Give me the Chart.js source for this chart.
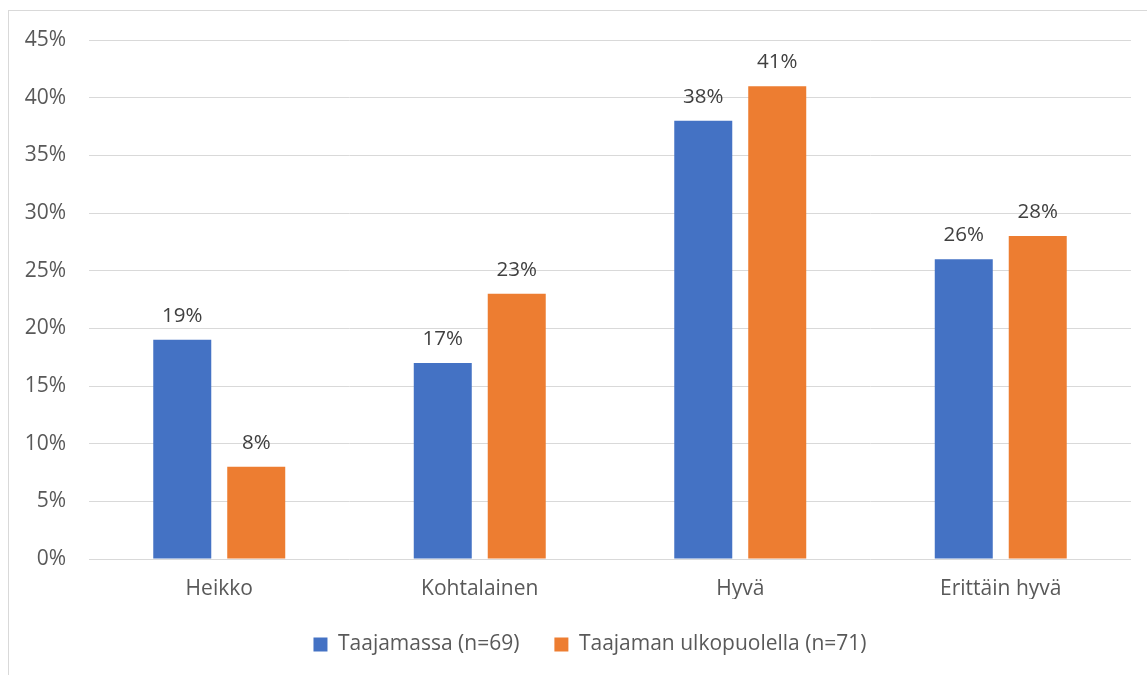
<!DOCTYPE html>
<html>
<head>
<meta charset="utf-8">
<script src="https://cdn.jsdelivr.net/npm/chart.js@4.4.0/dist/chart.umd.min.js"></script>
<style>
html,body{margin:0;padding:0;background:#fff;}
#wrap{width:1147px;height:675px;position:relative;}
</style>
</head>
<body>
<div id="wrap"><canvas id="c" width="1147" height="675"></canvas></div>
<script>
const categories = ["Heikko", "Kohtalainen", "Hyvä", "Erittäin hyvä"];
const seriesNames = ["Taajamassa (n=69)", "Taajaman ulkopuolella (n=71)"];
const taajamassa = [19, 17, 38, 26];
const ulkopuolella = [8, 23, 41, 28];
const yTicks = [0, 5, 10, 15, 20, 25, 30, 35, 40, 45];

const FONT = "'Open Sans', Lato, sans-serif";
const TXT = "#595959";

const borderPlugin = {
  id: 'outerBorder',
  beforeDraw(chart) {
    const ctx = chart.ctx;
    ctx.save();
    ctx.fillStyle = '#fff';
    ctx.fillRect(0, 0, chart.width, chart.height);
    ctx.strokeStyle = '#d9d9d9';
    ctx.lineWidth = 1;
    ctx.strokeRect(8.5, 10.5, 1300, 800);
    ctx.restore();
  }
};

const legendShift = {
  id: 'legendShift',
  afterLayout(chart) {
    if (chart.legend) {
      chart.legend.left += 49;
    }
  }
};

const labelPlugin = {
  id: 'barLabels',
  afterDatasetsDraw(chart) {
    const ctx = chart.ctx;
    ctx.save();
    ctx.font = "20.5px " + FONT;
    ctx.fillStyle = "#404040";
    ctx.textAlign = 'center';
    ctx.textBaseline = 'alphabetic';
    chart.data.datasets.forEach((ds, i) => {
      chart.getDatasetMeta(i).data.forEach((bar, j) => {
        ctx.fillText(ds.data[j] + '%', bar.x, bar.y - 18);
      });
    });
    ctx.restore();
  }
};

new Chart(document.getElementById('c'), {
  type: 'bar',
  data: {
    labels: categories,
    datasets: [
      { label: seriesNames[0], data: taajamassa, backgroundColor: '#4472C4', categoryPercentage: 0.568, barPercentage: 0.784 },
      { label: seriesNames[1], data: ulkopuolella, backgroundColor: '#ED7D31', categoryPercentage: 0.568, barPercentage: 0.784 }
    ]
  },
  options: {
    responsive: false,
    animation: false,
    devicePixelRatio: 1,
    layout: { padding: { left: 0, top: 40, right: 16, bottom: 10 } },
    plugins: {
      legend: {
        position: 'bottom',
        labels: {
          font: { family: FONT, size: 21 },
          color: TXT,
          boxWidth: 14,
          boxHeight: 14,
          padding: 35,
          useBorderRadius: false
        }
      },
      tooltip: { enabled: false }
    },
    scales: {
      x: {
        grid: { display: false, drawTicks: false },
        border: { display: false },
        ticks: { font: { family: FONT, size: 21 }, color: TXT, padding: 17 },
        afterFit(s) { s.height = 40; }
      },
      y: {
        min: 0, max: 45,
        grid: { color: '#d9d9d9', lineWidth: 1, drawTicks: false },
        border: { display: false },
        afterBuildTicks(s) { s.ticks = yTicks.map(v => ({ value: v })); },
        ticks: { font: { family: FONT, size: 21 }, color: TXT, padding: 23, callback: v => v + '%' },
        afterFit(s) { s.width = 89; }
      }
    }
  },
  plugins: [borderPlugin, legendShift, labelPlugin]
});
</script>
</body>
</html>
